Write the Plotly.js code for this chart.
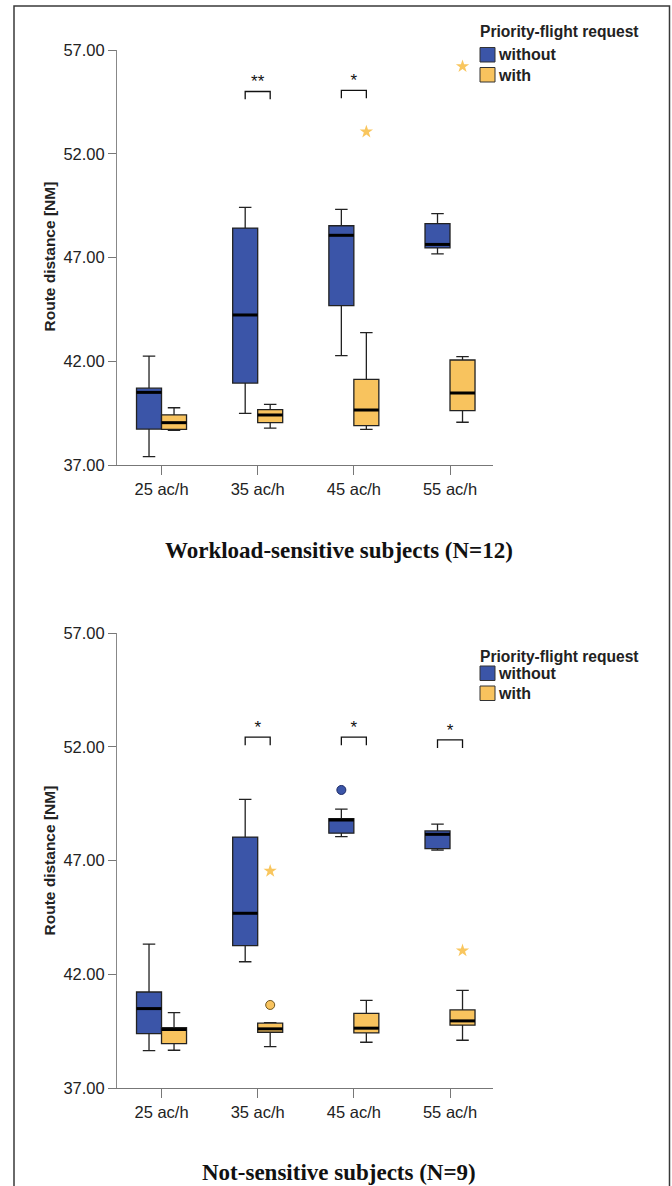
<!DOCTYPE html>
<html>
<head>
<meta charset="utf-8">
<script src="https://cdn.plot.ly/plotly-3.0.1.min.js"></script>
<style>html,body{margin:0;padding:0;background:#fff;}#chart{width:672px;height:1186px;}</style>
</head>
<body>
<div id="chart"></div>
<script>
// ---------- DATA ----------
const categories = ['25 ac/h', '35 ac/h', '45 ac/h', '55 ac/h'];
const yTicks = [37, 42, 47, 52, 57];
const seriesNames = ['without', 'with'];
const legendTitle = 'Priority-flight request';
const panelTitles = ['Workload-sensitive subjects (N=12)', 'Not-sensitive subjects (N=9)'];
const yAxisTitle = 'Route distance [NM]';

// Panel 1: Workload-sensitive subjects
const ws_without_lower  = [37.40, 39.49, 42.27, 47.17];
const ws_without_q1     = [38.73, 40.95, 44.68, 47.46];
const ws_without_median = [40.50, 44.23, 48.07, 47.63];
const ws_without_q3     = [40.70, 48.42, 48.53, 48.63];
const ws_without_upper  = [42.25, 49.42, 49.32, 49.11];
const ws_with_lower  = [38.67, 38.78, 38.72, 39.06];
const ws_with_q1     = [38.72, 39.04, 38.90, 39.62];
const ws_with_median = [39.04, 39.41, 39.65, 40.47];
const ws_with_q3     = [39.42, 39.67, 41.13, 42.06];
const ws_with_upper  = [39.76, 39.92, 43.38, 42.22];
const ws_without_outlierCat = [];
const ws_without_outlierVal = [];
const ws_with_outlierCat = [];
const ws_with_outlierVal = [];
const ws_with_extremeCat = [2, 3];
const ws_with_extremeVal = [53.06, 56.21];
const ws_sigLabel = ['', '**', '*', ''];
const ws_sigY     = [null, 55.00, 55.05, null];

// Panel 2: Not-sensitive subjects
const ns_without_lower  = [38.64, 42.55, 48.05, 47.46];
const ns_without_q1     = [39.39, 43.26, 48.20, 47.52];
const ns_without_median = [40.49, 44.68, 48.78, 48.15];
const ns_without_q3     = [41.22, 48.03, 48.84, 48.30];
const ns_without_upper  = [43.32, 49.69, 49.26, 48.60];
const ns_with_lower  = [38.66, 38.82, 39.01, 39.10];
const ns_with_q1     = [38.95, 39.45, 39.42, 39.76];
const ns_with_median = [39.57, 39.60, 39.63, 39.95];
const ns_with_q3     = [39.65, 39.85, 40.28, 40.43];
const ns_with_upper  = [40.31, 39.87, 40.85, 41.29];
const ns_without_outlierCat = [2];
const ns_without_outlierVal = [50.10];
const ns_with_outlierCat = [1];
const ns_with_outlierVal = [40.65];
const ns_with_extremeCat = [1, 3];
const ns_with_extremeVal = [46.54, 43.04];
const ns_sigLabel = ['', '*', '*', '*'];
const ns_sigY     = [null, 52.42, 52.42, 52.30];

// ---------- STYLE ----------
const W = 672, H = 1186;
const BLUE = '#3b55a8', ORANGE = '#f8c35e', STAR = '#f9c65e';
const OUTLINE = '#222222';
const OFF = 0.13, BOXW = 0.26;
const SANS = 'Liberation Sans, Arial, sans-serif';
const SERIF = 'Liberation Serif, Times New Roman, serif';
const px = x => x / W;
const py = y => 1 - y / H;

const traces = [];
function addPanel(p, xa, ya, legLen) {
  const groups = [
    {name: seriesNames[0], off: -OFF, fill: BLUE, lo: p.wl, q1: p.wq1, me: p.wm, q3: p.wq3, hi: p.wu,
     oc: p.woc, ov: p.wov, ec: [], ev: [], circEdge: '#1c2a66'},
    {name: seriesNames[1], off: OFF, fill: ORANGE, lo: p.hl, q1: p.hq1, me: p.hm, q3: p.hq3, hi: p.hu,
     oc: p.hoc, ov: p.hov, ec: p.hec, ev: p.hev, circEdge: '#6e5520'}
  ];
  groups.forEach(g => {
    const xs = categories.map((_, i) => i + g.off);
    traces.push({type: 'box', name: g.name, x: xs, q1: g.q1, median: g.me, q3: g.q3,
      lowerfence: g.lo, upperfence: g.hi, width: BOXW, whiskerwidth: 0.5,
      fillcolor: g.fill, line: {color: OUTLINE, width: 1.3}, boxpoints: false,
      showlegend: false, hoverinfo: 'skip', xaxis: xa, yaxis: ya});
    // thick median lines
    const mx = [], my = [];
    xs.forEach((x, i) => { mx.push(x - BOXW / 2, x + BOXW / 2, null); my.push(g.me[i], g.me[i], null); });
    traces.push({type: 'scatter', mode: 'lines', x: mx, y: my, line: {color: '#000', width: 3},
      showlegend: false, hoverinfo: 'skip', xaxis: xa, yaxis: ya});
    if (g.oc.length) traces.push({type: 'scatter', mode: 'markers', x: g.oc.map(c => c + g.off), y: g.ov,
      marker: {symbol: 'circle', size: 9, color: g.fill, line: {color: g.circEdge, width: 1}},
      showlegend: false, hoverinfo: 'skip', xaxis: xa, yaxis: ya});
    if (g.ec.length) traces.push({type: 'scatter', mode: 'markers', x: g.ec.map(c => c + g.off), y: g.ev,
      marker: {symbol: 'star', size: 10, color: STAR, line: {width: 0}},
      showlegend: false, hoverinfo: 'skip', xaxis: xa, yaxis: ya});
  });
  // significance brackets
  const bx = [], by = [], tx = [], ty = [], tt = [];
  p.sigLabel.forEach((s, i) => {
    if (!s) return;
    const y = p.sigY[i];
    bx.push(i - OFF, i - OFF, i + OFF, i + OFF, null);
    by.push(y - legLen, y, y, y - legLen, null);
    tx.push(i); ty.push(y); tt.push(s);
  });
  traces.push({type: 'scatter', mode: 'lines', x: bx, y: by, line: {color: '#111', width: 1.3},
    showlegend: false, hoverinfo: 'skip', xaxis: xa, yaxis: ya});
  traces.push({type: 'scatter', mode: 'text', x: tx, y: ty, text: tt, textposition: 'top center',
    textfont: {family: SANS, size: 17, color: '#111'}, showlegend: false, hoverinfo: 'skip', xaxis: xa, yaxis: ya});
}

addPanel({wl: ws_without_lower, wq1: ws_without_q1, wm: ws_without_median, wq3: ws_without_q3, wu: ws_without_upper,
  hl: ws_with_lower, hq1: ws_with_q1, hm: ws_with_median, hq3: ws_with_q3, hu: ws_with_upper,
  woc: ws_without_outlierCat, wov: ws_without_outlierVal, hoc: ws_with_outlierCat, hov: ws_with_outlierVal,
  hec: ws_with_extremeCat, hev: ws_with_extremeVal, sigLabel: ws_sigLabel, sigY: ws_sigY}, 'x', 'y', 0.37);
addPanel({wl: ns_without_lower, wq1: ns_without_q1, wm: ns_without_median, wq3: ns_without_q3, wu: ns_without_upper,
  hl: ns_with_lower, hq1: ns_with_q1, hm: ns_with_median, hq3: ns_with_q3, hu: ns_with_upper,
  woc: ns_without_outlierCat, wov: ns_without_outlierVal, hoc: ns_with_outlierCat, hov: ns_with_outlierVal,
  hec: ns_with_extremeCat, hev: ns_with_extremeVal, sigLabel: ns_sigLabel, sigY: ns_sigY}, 'x2', 'y2', 0.35);

const xBase = {
  domain: [px(117), px(493)], range: [-0.463, 3.447], tickvals: categories.map((_, i) => i), ticktext: categories,
  showline: true, linecolor: '#777', linewidth: 1, ticks: 'outside', ticklen: 9, tickcolor: '#777', tickwidth: 1,
  tickfont: {family: SANS, size: 16.5, color: '#222'}, showgrid: false, zeroline: false, fixedrange: true
};
const yBase = {
  range: [37, 57], tickvals: yTicks, tickformat: '.2f',
  showline: true, linecolor: '#888', linewidth: 1, ticks: 'outside', ticklen: 8, tickcolor: '#777', tickwidth: 1,
  tickfont: {family: SANS, size: 16.5, color: '#222'}, showgrid: false, zeroline: false, fixedrange: true
};

const annotations = [];
const shapes = [];
// outer frame
shapes.push({type: 'rect', xref: 'paper', yref: 'paper', x0: px(14), x1: px(669.5), y0: py(1200), y1: py(6),
  line: {color: '#3a3a3a', width: 1.5}, fillcolor: 'rgba(0,0,0,0)'});

const panels = [
  {title: panelTitles[0], titleY: 550, yTitleY: 256, legTitleY: 31.5, sw: [47.5, 67.5]},
  {title: panelTitles[1], titleY: 1172, yTitleY: 860, legTitleY: 656, sw: [666, 686]}
];
panels.forEach(p => {
  annotations.push({text: '<b>' + p.title + '</b>', xref: 'paper', yref: 'paper', x: px(339), y: py(p.titleY),
    xanchor: 'center', yanchor: 'middle', showarrow: false, font: {family: SERIF, size: 23, color: '#111'}});
  annotations.push({text: '<b>' + yAxisTitle + '</b>', xref: 'paper', yref: 'paper', x: px(48.5), y: py(p.yTitleY),
    xanchor: 'center', yanchor: 'middle', textangle: -90, showarrow: false, font: {family: SANS, size: 15.5, color: '#222'}});
  annotations.push({text: '<b>' + legendTitle + '</b>', xref: 'paper', yref: 'paper', x: px(478), y: py(p.legTitleY),
    xanchor: 'left', yanchor: 'middle', showarrow: false, font: {family: SANS, size: 15.6, color: '#222'}});
  [BLUE, ORANGE].forEach((c, k) => {
    const top = p.sw[k];
    shapes.push({type: 'rect', xref: 'paper', yref: 'paper', x0: px(480), x1: px(495), y0: py(top + 14.5), y1: py(top),
      fillcolor: c, line: {color: '#333', width: 1}});
    annotations.push({text: '<b>' + seriesNames[k] + '</b>', xref: 'paper', yref: 'paper', x: px(495.5), y: py(top + 7.5),
      xanchor: 'left', yanchor: 'middle', showarrow: false, font: {family: SANS, size: 16, color: '#222'}});
  });
});

const layout = {
  width: W, height: H, margin: {l: 0, r: 0, t: 0, b: 0}, paper_bgcolor: '#fff', plot_bgcolor: '#fff',
  showlegend: false, boxmode: 'overlay',
  xaxis: Object.assign({}, xBase, {anchor: 'y'}),
  yaxis: Object.assign({}, yBase, {domain: [py(465), py(50)], anchor: 'x'}),
  xaxis2: Object.assign({}, xBase, {anchor: 'y2'}),
  yaxis2: Object.assign({}, yBase, {domain: [py(1088), py(633)], anchor: 'x2'}),
  annotations: annotations, shapes: shapes
};
Plotly.newPlot('chart', traces, layout, {staticPlot: true, displayModeBar: false});
</script>
</body>
</html>
